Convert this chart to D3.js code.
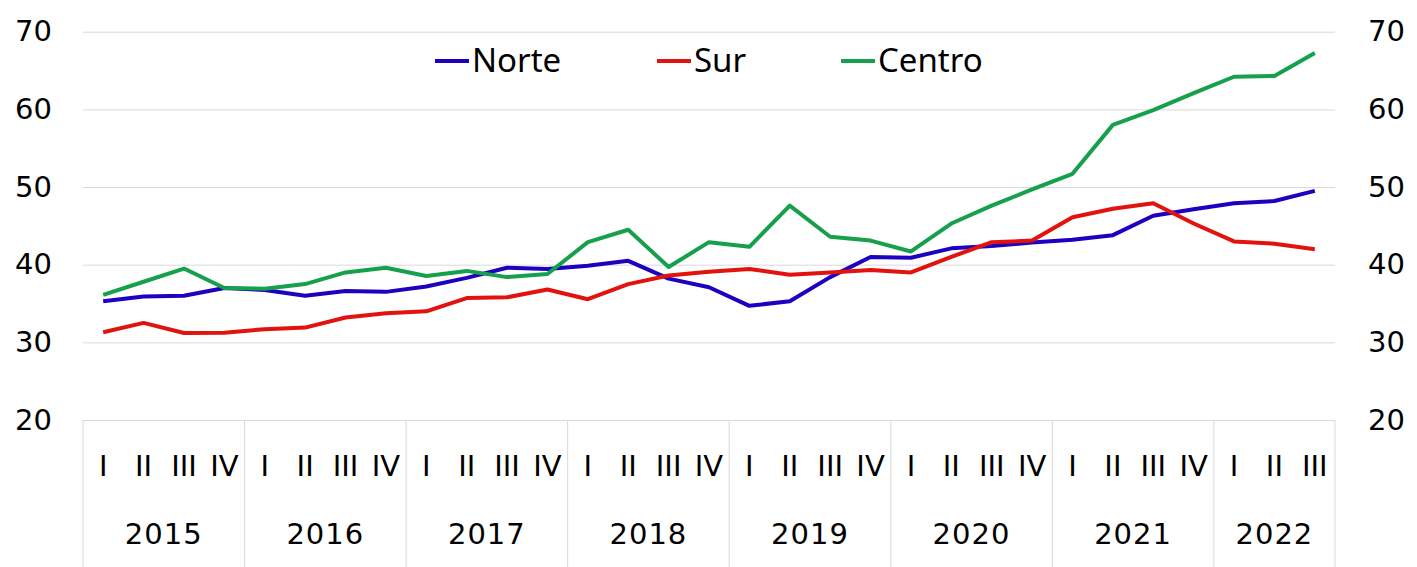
<!DOCTYPE html>
<html>
<head>
<meta charset="utf-8">
<script src="https://cdn.jsdelivr.net/npm/d3@7"></script>
<style>
  body { margin: 0; background: #fff; }
  svg { display: block; }
</style>
</head>
<body>
<script>
"use strict";

// quarters 2015 I .. 2022 III
var years = ["2015", "2016", "2017", "2018", "2019", "2020", "2021", "2022"];
var quarterNames = ["I", "II", "III", "IV"];
var yTicks = [20, 30, 40, 50, 60, 70];

var norte = [35.3, 35.9, 36.0, 37.0, 36.75, 36.0, 36.6, 36.5, 37.2, 38.3, 39.6,
             39.45, 39.85, 40.5, 38.2, 37.1, 34.7, 35.3, 38.4, 41.0, 40.9, 42.1,
             42.4, 42.85, 43.2, 43.8, 46.3, 47.15, 47.9, 48.2, 49.5];
var sur = [31.3, 32.5, 31.2, 31.25, 31.7, 31.9, 33.2, 33.75, 34.0, 35.7, 35.8,
           36.8, 35.55, 37.5, 38.6, 39.1, 39.45, 38.7, 39.0, 39.3, 39.0, 41.0,
           42.9, 43.1, 46.1, 47.2, 47.9, 45.3, 43.0, 42.7, 42.0];
var centro = [36.1, 37.8, 39.5, 37.0, 36.9, 37.5, 39.0, 39.6, 38.55, 39.2, 38.4,
              38.8, 42.9, 44.5, 39.7, 42.9, 42.3, 47.6, 43.6, 43.1, 41.7, 45.3,
              47.6, 49.7, 51.7, 58.0, 59.9, 62.1, 64.2, 64.3, 67.25];

var seriesNames = ["Norte", "Sur", "Centro"];
var seriesColors = ["#1e00c0", "#e2120f", "#16a04c"];

function draw_chart() {
    var width = 1417;
    var height = 567;
    var left = 83, right = 1335, top = 31.7, bottom = 420;

    // build category list from years x quarters
    var cats = [];
    years.forEach(function(y) {
        quarterNames.forEach(function(q) {
            if (cats.length < norte.length) cats.push({"year": y, "q": q, "key": y + "-" + q});
        });
    });

    var svg = d3.select("body")
        .append("svg")
        .attr("width", width)
        .attr("height", height)
        .style("font-family", "'DejaVu Sans', sans-serif");

    var x = d3.scaleBand()
        .domain(cats.map(function(d) { return d.key; }))
        .range([left, right])
        .padding(0);
    var y = d3.scaleLinear()
        .domain([20, 70])
        .range([bottom, top]);

    // gridlines + left labels
    var gLeft = svg.append("g")
        .attr("transform", "translate(" + left + ",0)")
        .call(d3.axisLeft(y).tickValues(yTicks).tickSize(-(right - left)).tickPadding(31));
    gLeft.select(".domain").remove();
    gLeft.selectAll(".tick line").attr("stroke", "#d9d9d9").attr("stroke-width", 1);
    gLeft.selectAll(".tick text")
        .attr("font-size", 29).attr("fill", "#000")
        .style("font-family", "'DejaVu Sans', sans-serif");

    // right labels
    var gRight = svg.append("g")
        .attr("transform", "translate(" + right + ",0)")
        .call(d3.axisRight(y).tickValues(yTicks).tickSize(0).tickPadding(33));
    gRight.select(".domain").remove();
    gRight.selectAll(".tick text")
        .attr("font-size", 29).attr("fill", "#000")
        .style("font-family", "'DejaVu Sans', sans-serif");

    // quarter labels
    var gQ = svg.append("g")
        .attr("transform", "translate(0," + bottom + ")")
        .call(d3.axisBottom(x).tickSize(0).tickPadding(0)
            .tickFormat(function(k) { return k.split("-")[1]; }));
    gQ.select(".domain").remove();
    gQ.selectAll(".tick text")
        .attr("y", 56)
        .attr("dy", 0)
        .attr("font-size", 29).attr("fill", "#000")
        .style("font-family", "'DejaVu Sans', sans-serif");

    // year separators
    var bounds = [];
    years.forEach(function(yr, i) { bounds.push(x(cats[i * 4].key)); });
    bounds.push(right);
    svg.append("g").selectAll("line")
        .data(bounds)
        .enter()
        .append("line")
        .attr("x1", function(d) { return d; })
        .attr("x2", function(d) { return d; })
        .attr("y1", bottom)
        .attr("y2", height)
        .attr("stroke", "#d9d9d9")
        .attr("stroke-width", 1);

    // year labels
    svg.append("g").selectAll("text")
        .data(years)
        .enter()
        .append("text")
        .attr("x", function(d, i) { return (bounds[i] + bounds[i + 1]) / 2; })
        .attr("y", 544)
        .attr("text-anchor", "middle")
        .attr("font-size", 29)
        .attr("letter-spacing", 1)
        .text(function(d) { return d; });

    // lines
    var line = d3.line()
        .x(function(d, i) { return x(cats[i].key) + x.bandwidth() / 2; })
        .y(function(d) { return y(d); });
    [norte, sur, centro].forEach(function(s, i) {
        svg.append("path")
            .datum(s)
            .attr("d", line)
            .attr("fill", "none")
            .attr("stroke", seriesColors[i])
            .attr("stroke-width", 4)
            .attr("stroke-linejoin", "round");
    });

    // legend
    var legX = [435, 657, 841];
    var leg = svg.append("g").selectAll("g")
        .data(seriesNames)
        .enter()
        .append("g")
        .attr("transform", function(d, i) { return "translate(" + legX[i] + ",61)"; });
    leg.append("line")
        .attr("x1", 0).attr("x2", 34)
        .attr("y1", 0).attr("y2", 0)
        .attr("stroke", function(d, i) { return seriesColors[i]; })
        .attr("stroke-width", 4);
    leg.append("text")
        .attr("x", 37)
        .attr("y", 11)
        .attr("font-size", 33)
        .style("font-family", "'Noto Sans', sans-serif")
        .text(function(d) { return d; });
}

draw_chart();
</script>
</body>
</html>
